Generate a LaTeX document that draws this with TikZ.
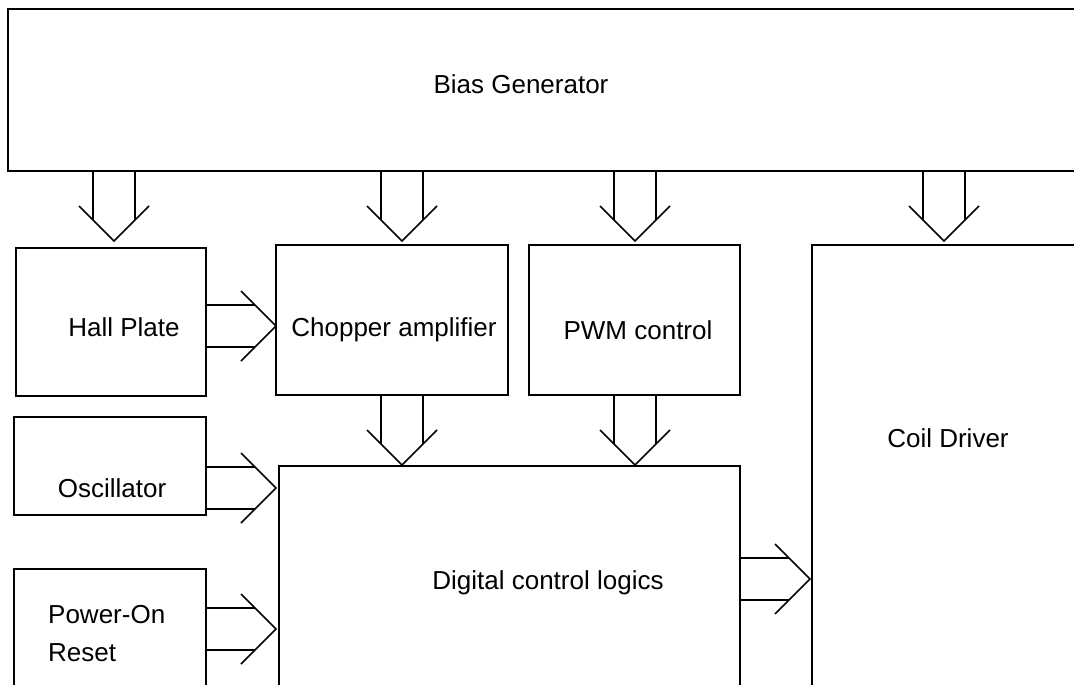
\documentclass[tikz,border=0pt]{standalone}
\usepackage{fontspec}
\setmainfont{Liberation Sans}
\usetikzlibrary{calc}

\tikzset{
	blk/.style={draw, line width=1.6pt, anchor=north west, outer sep=0pt, inner sep=0pt},
	txt/.style={anchor=base, inner sep=0pt, font=\fontsize{26}{38}\selectfont},
	pics/bus/.style={code={
		\draw[line width=1.6pt] (-21,0) -- (-21,49) (21,0) -- (21,49) (-35,35) -- (0,70) -- (35,35);
	}}
}

\begin{document}
\begin{tikzpicture}[x=1pt,y=-1pt]
	\useasboundingbox (0,0) rectangle (1074,685);
	\clip (0,0) rectangle (1074,685);
	% blocks
	\node[blk,minimum width=1080,minimum height=162] (bias) at (8,9) {};
	\node[blk,minimum width=190,minimum height=148] (hall) at (16,248) {};
	\node[blk,minimum width=232,minimum height=150] (chopper) at (276,245) {};
	\node[blk,minimum width=211,minimum height=150] (pwm) at (529,245) {};
	\node[blk,minimum width=300,minimum height=500] (coil) at (812,245) {};
	\node[blk,minimum width=192,minimum height=98] (osc) at (14,417) {};
	\node[blk,minimum width=192,minimum height=200] (por) at (14,569) {};
	\node[blk,minimum width=461,minimum height=300] (digital) at (279,466) {};
	% labels
	\node[txt] (tbias) at (521,93) {Bias Generator};
	\node[txt] (thall) at (124,336) {Hall Plate};
	\node[txt] (tchopper) at (394,336) {Chopper amplifier};
	\node[txt] (tpwm) at (638,339) {PWM control};
	\node[txt] (tcoil) at (948,447) {Coil Driver};
	\node[txt] (tosc) at (112,497) {Oscillator};
	\node[txt] (tdigital) at (548,589) {Digital control logics};
	\node[txt,anchor=base west] (tpor) at (48,623) {Power-On};
	\node[txt,anchor=base west] (tporb) at (48,661) {Reset};
	% buses
	\foreach \s/\x in {bias/114,bias/402,bias/635,bias/944,chopper/402,pwm/635}
		\pic at (\s.south -| \x,0) {bus};
	\foreach \s/\y in {hall/326,osc/488,por/629,digital/579}
		\pic[rotate=90] at (\s.east |- 0,\y) {bus};
\end{tikzpicture}
\end{document}
